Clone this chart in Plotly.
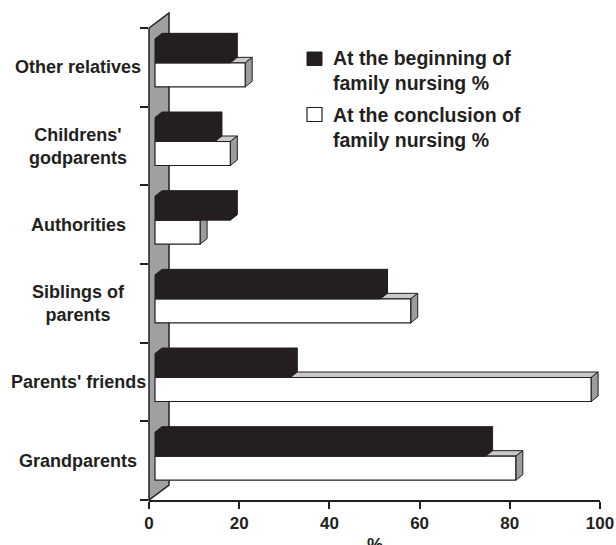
import plotly.graph_objects as go

# ---- data -------------------------------------------------------------
categories = [
    "Grandparents",
    "Parents' friends",
    "Siblings of<br>parents",
    "Authorities",
    "Childrens'<br>godparents",
    "Other relatives",
]
beginning = [73.3, 30.0, 50.0, 16.7, 13.3, 16.7]    # at the beginning of family nursing, %
conclusion = [80.0, 96.7, 56.7, 10.0, 16.7, 20.0]   # at the conclusion of family nursing, %
series_names = [
    "At the beginning of<br>family nursing %",
    "At the conclusion of<br>family nursing %",
]
x_ticks = [0, 20, 40, 60, 80, 100]

# ---- styling / geometry ------------------------------------------------
DARK = "#231f20"
WALL = "#a0a0a0"
TOP_FACE = "#c9c9c9"
SIDE_FACE = "#9c9c9c"
FONT = "Liberation Sans"

W, H = 616, 545
M_L, M_R, M_T, M_B = 149, 16, 28, 45
PLOT_W = W - M_L - M_R
PLOT_H = H - M_T - M_B
N = len(categories)
X_MAX = 100

px_per_x = PLOT_W / X_MAX
px_per_y = PLOT_H / N


def ux(px):
    return px / px_per_x


def uy(px):
    return px / px_per_y


FRONT_DX, FRONT_DY = ux(6), uy(4.5)     # front plane of bars, pushed back
DEPTH_DX, DEPTH_DY = ux(7), uy(5.5)     # bar depth
BAR_H = uy(24)
WALL_DX, WALL_DY = 20 / PLOT_W, 15 / PLOT_H   # side wall depth (paper units)

centers = [i + 0.5 for i in range(N)]
y_black = [c + FRONT_DY + BAR_H / 2 for c in centers]
y_white = [c + FRONT_DY - BAR_H / 2 for c in centers]


def poly(points):
    return "M " + " L ".join(f"{x},{y}" for x, y in points) + " Z"


shapes = []

# left side wall
shapes.append(dict(
    type="path", xref="paper", yref="paper", layer="below",
    path=poly([(0, 0), (0, 1), (WALL_DX, 1 + WALL_DY), (WALL_DX, WALL_DY)]),
    fillcolor=WALL, line=dict(color=DARK, width=1.5),
))


def faces(value, y_mid, top_col, side_col):
    xl = FRONT_DX
    xr = FRONT_DX + value
    yt = y_mid + BAR_H / 2
    yb = y_mid - BAR_H / 2
    top = poly([(xl, yt), (xl + DEPTH_DX, yt + DEPTH_DY),
                (xr + DEPTH_DX, yt + DEPTH_DY), (xr, yt)])
    side = poly([(xr, yb), (xr, yt), (xr + DEPTH_DX, yt + DEPTH_DY),
                 (xr + DEPTH_DX, yb + DEPTH_DY)])
    out = []
    for p, col in ((top, top_col), (side, side_col)):
        out.append(dict(type="path", xref="x", yref="y", layer="below",
                        path=p, fillcolor=col,
                        line=dict(color=DARK, width=1)))
    return out


for v, y in zip(conclusion, y_white):
    shapes += faces(v, y, TOP_FACE, SIDE_FACE)
for v, y in zip(beginning, y_black):
    shapes += faces(v, y, DARK, DARK)

# legend swatches
lx0, lx1 = (307 - M_L) / PLOT_W, (322 - M_L) / PLOT_W


def py(pix):
    return (M_T + PLOT_H - pix) / PLOT_H


shapes.append(dict(type="rect", xref="paper", yref="paper",
                   x0=lx0, x1=lx1, y0=py(65.5), y1=py(52),
                   fillcolor=DARK, line=dict(color=DARK, width=1)))
shapes.append(dict(type="rect", xref="paper", yref="paper",
                   x0=lx0, x1=lx1, y0=py(121.5), y1=py(107.5),
                   fillcolor="white", line=dict(color=DARK, width=1.2)))

fig = go.Figure()
fig.add_trace(go.Bar(
    orientation="h", y=y_white, x=conclusion, base=FRONT_DX, width=BAR_H,
    marker=dict(color="white", line=dict(color=DARK, width=1.2)),
    name=series_names[1].replace("<br>", " "), showlegend=False,
))
fig.add_trace(go.Bar(
    orientation="h", y=y_black, x=beginning, base=FRONT_DX, width=BAR_H,
    marker=dict(color=DARK, line=dict(color=DARK, width=1)),
    name=series_names[0].replace("<br>", " "), showlegend=False,
))

annotations = []
label_x = (78 - M_L) / PLOT_W
for c, lab in zip(centers, categories):
    annotations.append(dict(
        text=lab, x=label_x, y=c, xref="paper", yref="y",
        xanchor="center", yanchor="middle", align="center", showarrow=False,
        font=dict(family=FONT, size=18, color=DARK, weight="bold"),
    ))

text_x = (331 - M_L) / PLOT_W
for name, ymid in zip(series_names, [70.5, 127]):
    annotations.append(dict(
        text=name, x=text_x, y=py(ymid), xref="paper", yref="paper",
        xanchor="left", yanchor="middle", align="left", showarrow=False,
        font=dict(family=FONT, size=19.5, color=DARK, weight="bold"),
    ))

annotations.append(dict(
    text="%", x=0.5, y=py(533), xref="paper", yref="paper",
    xanchor="center", yanchor="top", showarrow=False,
    font=dict(family=FONT, size=18, color=DARK, weight="bold"),
))

fig.update_layout(
    width=W, height=H, autosize=False,
    margin=dict(l=M_L, r=M_R, t=M_T, b=M_B),
    paper_bgcolor="white", plot_bgcolor="white",
    barmode="overlay", showlegend=False,
    shapes=shapes, annotations=annotations,
    xaxis=dict(
        range=[0, X_MAX], tickmode="array", tickvals=x_ticks,
        ticks="outside", ticklen=7, tickwidth=1.5, tickcolor=DARK,
        showline=True, linecolor=DARK, linewidth=1.5,
        showgrid=False, zeroline=False, automargin=False,
        tickfont=dict(family=FONT, size=17, color=DARK, weight="bold"),
    ),
    yaxis=dict(
        range=[0, N], tickmode="array", tickvals=list(range(N + 1)),
        ticktext=[""] * (N + 1), automargin=False,
        ticks="outside", ticklen=8, tickwidth=1.5, tickcolor=DARK,
        showline=False, showgrid=False, zeroline=False,
    ),
)

fig.write_html("out.html")
